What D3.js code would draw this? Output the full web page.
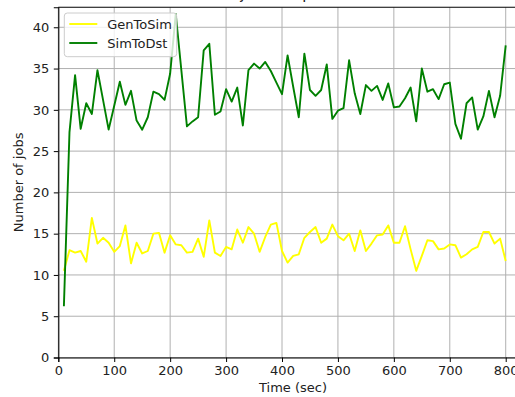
<!DOCTYPE html>
<html>
<head>
<meta charset="utf-8">
<script src="https://cdn.jsdelivr.net/npm/d3@7"></script>
<style>
  body { margin: 0; background: #fff; }
  svg { display: block; font-family: "DejaVu Sans", sans-serif; }
</style>
</head>
<body>
<div id="graph"></div>
<script>
// time stamps (sec)
let times = [10, 20, 30, 40, 50, 60, 70, 80, 90, 100,
  110, 120, 130, 140, 150, 160, 170, 180, 190, 200,
  210, 220, 230, 240, 250, 260, 270, 280, 290, 300,
  310, 320, 330, 340, 350, 360, 370, 380, 390, 400,
  410, 420, 430, 440, 450, 460, 470, 480, 490, 500,
  510, 520, 530, 540, 550, 560, 570, 580, 590, 600,
  610, 620, 630, 640, 650, 660, 670, 680, 690, 700,
  710, 720, 730, 740, 750, 760, 770, 780, 790, 800];

let genToSim = [10.5, 13.0, 12.7, 12.9, 11.6, 16.9, 13.8, 14.5, 13.9, 12.8,
  13.5, 16.0, 11.4, 13.9, 12.6, 12.9, 15.0, 15.1, 12.7, 14.8,
  13.7, 13.6, 12.7, 12.8, 14.4, 12.2, 16.6, 12.7, 12.3, 13.4,
  13.1, 15.5, 13.9, 15.8, 15.0, 12.8, 14.6, 16.1, 16.3, 12.9,
  11.5, 12.3, 12.5, 14.5, 15.2, 15.8, 13.9, 14.4, 16.1, 14.7,
  14.2, 15.0, 12.9, 15.4, 12.9, 13.8, 14.8, 14.9, 16.0, 13.9,
  13.9, 15.9, 13.1, 10.5, 12.3, 14.2, 14.1, 13.1, 13.2, 13.7,
  13.6, 12.1, 12.5, 13.1, 13.4, 15.2, 15.2, 13.8, 14.4, 11.7];

let simToDst = [6.2, 27.3, 34.2, 27.7, 30.8, 29.5, 34.8, 31.2, 27.6, 30.5,
  33.4, 30.6, 32.3, 28.7, 27.6, 29.1, 32.2, 31.9, 31.2, 34.4,
  41.6, 34.8, 28.0, 28.6, 29.1, 37.2, 38.0, 29.4, 29.8, 32.5,
  31.0, 32.7, 28.1, 34.8, 35.6, 35.0, 35.8, 34.7, 33.3, 31.9,
  36.6, 32.8, 29.1, 36.8, 32.4, 31.7, 32.4, 35.5, 28.9, 29.9,
  30.2, 36.0, 32.0, 29.5, 33.0, 32.3, 32.9, 31.2, 33.2, 30.3,
  30.4, 31.4, 32.7, 28.6, 35.0, 32.2, 32.5, 31.3, 33.1, 33.3,
  28.3, 26.5, 30.8, 31.5, 27.6, 29.2, 32.3, 29.1, 31.7, 37.8];

let seriesNames = ["GenToSim", "SimToDst"];
let seriesColors = ["#ffff00", "#008000"];
let xTicks = [0, 100, 200, 300, 400, 500, 600, 700, 800];
let yTicks = [0, 5, 10, 15, 20, 25, 30, 35, 40];

let fullW = 515, fullH = 397;
let margin = {top: 7.3, left: 58.3, bottom: fullH - 357.5},
    width = 527.8 - margin.left,
    height = fullH - margin.top - margin.bottom;

let x = d3.scaleLinear().domain([0, 839.5]).range([0, width]);
let y = d3.scaleLinear().domain([0, 42.42]).range([height, 0]);

let svg = d3.select("div#graph").append("svg")
  .attr("width", fullW)
  .attr("height", fullH);

let g = svg.append("g")
  .attr("transform", "translate(" + margin.left + "," + margin.top + ")");

// grid
g.append("g").selectAll("line").data(xTicks).join("line")
  .attr("x1", function(d) { return x(d); }).attr("x2", function(d) { return x(d); })
  .attr("y1", 0).attr("y2", height)
  .attr("stroke", "#b0b0b0").attr("stroke-width", 1);
g.append("g").selectAll("line").data(yTicks).join("line")
  .attr("x1", 0).attr("x2", width)
  .attr("y1", function(d) { return y(d); }).attr("y2", function(d) { return y(d); })
  .attr("stroke", "#b0b0b0").attr("stroke-width", 1);

// lines
let rows = times.map(function(t, i) { return {t: t, v: [genToSim[i], simToDst[i]]}; });
seriesNames.forEach(function(name, k) {
  let line = d3.line()
    .x(function(d) { return x(d.t); })
    .y(function(d) { return y(d.v[k]); });
  g.append("path")
    .datum(rows)
    .attr("fill", "none")
    .attr("stroke", seriesColors[k])
    .attr("stroke-width", 1.9)
    .attr("stroke-linejoin", "round")
    .attr("d", line);
});

// axes
let xAxis = d3.axisBottom(x).tickValues(xTicks).tickSize(4.5).tickPadding(4);
let yAxis = d3.axisLeft(y).tickValues(yTicks).tickSize(4.5).tickPadding(4.5);

g.append("g")
  .attr("transform", "translate(0," + height + ")")
  .call(xAxis)
  .call(function(a) {
    a.select(".domain").attr("stroke", "#000").attr("stroke-width", 1.1);
    a.selectAll("text").attr("font-size", 13).attr("fill", "#222").attr("font-family", "DejaVu Sans");
  });

g.append("g")
  .call(yAxis)
  .call(function(a) {
    a.select(".domain").attr("stroke", "#000").attr("stroke-width", 1.1);
    a.selectAll("text").attr("font-size", 13).attr("fill", "#222").attr("font-family", "DejaVu Sans");
  });

// top spine
g.append("line")
  .attr("x1", 0).attr("x2", width).attr("y1", 0).attr("y2", 0)
  .attr("stroke", "#000").attr("stroke-width", 1.1);

// labels
svg.append("text")
  .attr("x", margin.left + width / 2).attr("y", 392)
  .attr("text-anchor", "middle").attr("font-size", 13).attr("fill", "#222")
  .text("Time (sec)");

svg.append("text")
  .attr("transform", "translate(22.5," + (margin.top + height / 2) + ") rotate(-90)")
  .attr("text-anchor", "middle").attr("font-size", 13).attr("fill", "#222")
  .text("Number of jobs");

// title sits mostly above the visible frame, as in the source image
svg.append("text")
  .attr("x", margin.left + width / 2).attr("y", -1.5)
  .attr("text-anchor", "middle").attr("font-size", 15.6).attr("fill", "#222")
  .text("Number of jobs in queues over time");

// legend
let legend = svg.append("g").attr("transform", "translate(64.3,13)");
legend.append("rect")
  .attr("width", 112.4).attr("height", 43.7).attr("rx", 3)
  .attr("fill", "#fff").attr("fill-opacity", 0.8)
  .attr("stroke", "#cccccc").attr("stroke-width", 1);
seriesNames.forEach(function(name, k) {
  let row = legend.append("g").attr("transform", "translate(0," + (11 + k * 19) + ")");
  row.append("line")
    .attr("x1", 5).attr("x2", 33).attr("y1", 0).attr("y2", 0)
    .attr("stroke", seriesColors[k]).attr("stroke-width", 1.9);
  row.append("text")
    .attr("x", 43).attr("y", 4.7)
    .attr("font-size", 13).attr("fill", "#222")
    .text(name);
});
</script>
</body>
</html>
